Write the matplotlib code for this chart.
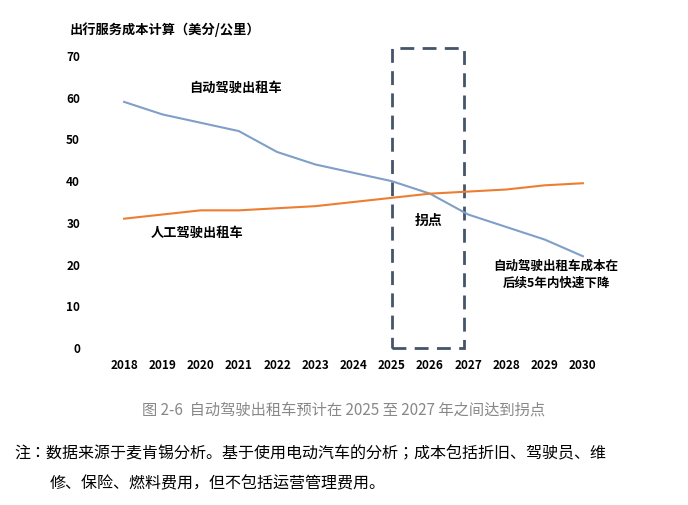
import matplotlib
matplotlib.use("Agg")
import matplotlib.pyplot as plt
from matplotlib.patches import Rectangle

plt.rcParams["font.family"] = ["Noto Sans CJK JP", "Noto Sans CJK SC", "Noto Sans CJK TC",
                               "Noto Sans CJK KR", "DejaVu Sans"]

years = list(range(2018, 2031))
auto_cost = [59, 56, 54, 52, 47, 44, 42, 40, 37, 32, 29, 26, 22]
human_cost = [31, 32, 33, 33, 33.5, 34, 35, 36, 37, 37.5, 38, 39, 39.5]
yticks = [0, 10, 20, 30, 40, 50, 60, 70]

fig = plt.figure(figsize=(6.88, 5.05), dpi=100)
W, H = 688, 505
ax = fig.add_axes([105 / W, 1 - 348 / H, (602 - 105) / W, (348 - 56) / H])
ax.plot(years, auto_cost, color="#7f9fc8", lw=1.5)
ax.plot(years, human_cost, color="#ed7d31", lw=1.5)
ax.set_xlim(2017.5, 2030.5)
ax.set_ylim(0, 70)
ax.set_xticks(years)
ax.set_yticks(yticks)
for s in ax.spines.values():
    s.set_visible(False)
ax.tick_params(length=0, labelsize=8.5)
for lbl in ax.get_xticklabels() + ax.get_yticklabels():
    lbl.set_fontweight("bold")
ax.tick_params(axis="y", pad=18)
ax.tick_params(axis="x", pad=8)
ax.add_patch(Rectangle((2025.0, 0), 1.9, 72, fill=False, ls=(0, (5, 3)),
                       lw=2, ec="#44546a", clip_on=False))
ax.text(2019.7, 61.5, "自动驾驶出租车", fontsize=9.5, fontweight="bold")
ax.text(2018.7, 26.5, "人工驾驶出租车", fontsize=9.5, fontweight="bold")
ax.text(2025.6, 29.5, "拐点", fontsize=10, fontweight="bold")
ax.text(2029.3, 17.5, "自动驾驶出租车成本在\n后续5年内快速下降", fontsize=9, fontweight="bold",
        ha="center", va="center", linespacing=1.4)

fig.text(70 / W, 1 - 30 / H, "出行服务成本计算（美分/公里）", fontsize=9.5, fontweight="bold", va="center")
fig.text(344 / W, 1 - 410 / H, "图 2-6  自动驾驶出租车预计在 2025 至 2027 年之间达到拐点",
         fontsize=11, color="#888888", ha="center", va="center")
fig.text(14 / W, 1 - 454 / H, "注：数据来源于麦肯锡分析。基于使用电动汽车的分析；成本包括折旧、驾驶员、维",
         fontsize=11.5, va="center")
fig.text(50 / W, 1 - 484 / H, "修、保险、燃料费用，但不包括运营管理费用。", fontsize=11.5, va="center")
fig.savefig("out.png", dpi=100)
